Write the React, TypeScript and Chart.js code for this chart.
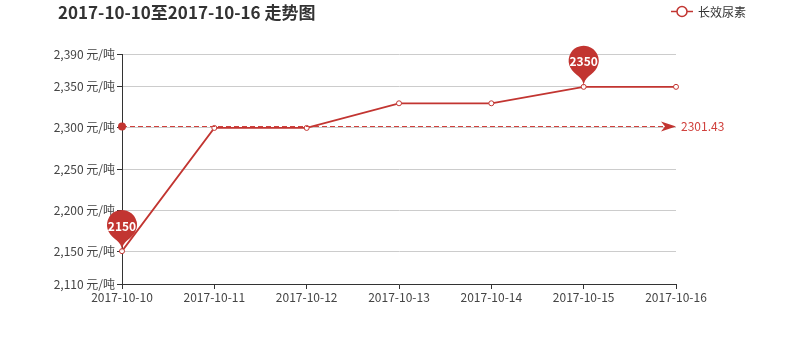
import React, { useEffect, useRef } from 'react';
import { Chart, registerables } from 'chart.js';

Chart.register(...registerables);

const titleText = '2017-10-10至2017-10-16 走势图';
const seriesName = '长效尿素';
const unit = '元/吨';
const categories = ['2017-10-10', '2017-10-11', '2017-10-12', '2017-10-13', '2017-10-14', '2017-10-15', '2017-10-16'];
const prices = [2150, 2300, 2300, 2330, 2330, 2350, 2350];
const yTicks = [2110, 2150, 2200, 2250, 2300, 2350, 2390];
const yMin = 2110;
const yMax = 2390;

const RED = '#c23531';
const FONT = '"Noto Sans CJK SC", "Microsoft YaHei", sans-serif';

function drawPin(ctx: CanvasRenderingContext2D, x: number, y: number, width: number, height: number) {
  const w = width;
  const h = Math.max(w, height);
  const r = w / 2;
  const dy = (r * r) / (h - r);
  const cy = y - h + r + dy;
  const angle = Math.asin(dy / r);
  const dx = Math.cos(angle) * r;
  const tanX = Math.sin(angle);
  const tanY = Math.cos(angle);
  const cpLen = r * 0.6;
  const cpLen2 = r * 0.7;
  ctx.beginPath();
  ctx.moveTo(x - dx, cy + dy);
  ctx.arc(x, cy, r, Math.PI - angle, Math.PI * 2 + angle);
  ctx.bezierCurveTo(x + dx - tanX * cpLen, cy + dy + tanY * cpLen, x, y - cpLen2, x, y);
  ctx.bezierCurveTo(x, y - cpLen2, x - dx + tanX * cpLen, cy + dy + tanY * cpLen, x - dx, cy + dy);
  ctx.closePath();
  ctx.fill();
  return cy;
}

const overlayPlugin = {
  id: 'overlay',
  afterDatasetsDraw(chart: any) {
    const ctx: CanvasRenderingContext2D = chart.ctx;
    const xs = chart.scales.x;
    const ys = chart.scales.y;
    const area = chart.chartArea;

    // mark line (average)
    const avg = prices.reduce((a, b) => a + b, 0) / prices.length;
    const ay = Math.round(ys.getPixelForValue(avg) - 0.5) + 0.5;
    ctx.save();
    ctx.strokeStyle = '#d0403c';
    ctx.lineWidth = 1;
    ctx.setLineDash([5, 3]);
    ctx.beginPath();
    ctx.moveTo(area.left, ay);
    ctx.lineTo(area.right - 6, ay);
    ctx.stroke();
    ctx.setLineDash([]);
    ctx.fillStyle = RED;
    ctx.beginPath();
    ctx.arc(area.left, ay, 4, 0, Math.PI * 2);
    ctx.fill();
    // arrow
    ctx.beginPath();
    ctx.moveTo(area.right, ay);
    ctx.lineTo(area.right - 15, ay - 5);
    ctx.lineTo(area.right - 11, ay);
    ctx.lineTo(area.right - 15, ay + 5);
    ctx.closePath();
    ctx.fill();
    ctx.font = `12px ${FONT}`;
    ctx.fillStyle = '#d0403c';
    ctx.textAlign = 'left';
    ctx.textBaseline = 'middle';
    ctx.fillText(avg.toFixed(2), area.right + 5, ay);
    ctx.restore();

    // mark points: max and min
    const maxV = Math.max(...prices);
    const minV = Math.min(...prices);
    const maxI = prices.indexOf(maxV);
    const minI = prices.indexOf(minV);
    const pins = [
      { i: maxI, v: maxV },
      { i: minI, v: minV },
    ];
    ctx.save();
    for (const p of pins) {
      const px = xs.getPixelForValue(p.i);
      const py = ys.getPixelForValue(p.v);
      ctx.fillStyle = RED;
      const cy = drawPin(ctx, px, py, 30, 48);
      ctx.fillStyle = '#fff';
      ctx.font = `bold 12px ${FONT}`;
      ctx.textAlign = 'center';
      ctx.textBaseline = 'middle';
      ctx.fillText(String(p.v), px, cy + 1);
    }
    ctx.restore();

    // title
    ctx.save();
    ctx.fillStyle = '#333';
    ctx.font = `bold 17px ${FONT}`;
    ctx.textAlign = 'left';
    ctx.textBaseline = 'middle';
    ctx.fillText(titleText, 58, 13);
    ctx.restore();

    // legend
    ctx.save();
    ctx.strokeStyle = RED;
    ctx.lineWidth = 1.5;
    ctx.beginPath();
    ctx.moveTo(671, 11.5);
    ctx.lineTo(693, 11.5);
    ctx.stroke();
    ctx.fillStyle = '#fff';
    ctx.beginPath();
    ctx.arc(682, 11.5, 5, 0, Math.PI * 2);
    ctx.fill();
    ctx.stroke();
    ctx.fillStyle = '#333';
    ctx.font = `12px ${FONT}`;
    ctx.textAlign = 'left';
    ctx.textBaseline = 'middle';
    ctx.fillText(seriesName, 698, 12);
    ctx.restore();
  },
};

export default function App() {
  const ref = useRef<HTMLCanvasElement>(null);
  useEffect(() => {
    if (!ref.current) return;
    const chart = new Chart(ref.current, {
      type: 'line',
      data: {
        labels: categories,
        datasets: [
          {
            label: seriesName,
            data: prices,
            borderColor: RED,
            backgroundColor: '#fff',
            borderWidth: 1.8,
            pointRadius: 2.5,
            pointBorderWidth: 1,
            pointBackgroundColor: '#fff',
            pointBorderColor: RED,
            tension: 0,
          },
        ],
      },
      options: {
        animation: false,
        responsive: false,
        maintainAspectRatio: false,
        layout: { padding: { top: 54, right: 122, left: 0, bottom: 0 } },
        plugins: {
          legend: { display: false },
          title: { display: false },
          tooltip: { enabled: false },
        },
        font: { family: FONT },
        scales: {
          x: {
            type: 'category',
            offset: false,
            grid: { drawOnChartArea: false, color: '#333', tickColor: '#333', tickLength: 5 },
            border: { color: '#333', width: 1 },
            ticks: { color: '#444', font: { size: 12, family: FONT }, padding: 1, maxRotation: 0, autoSkip: false },
            afterFit: (s: any) => {
              s.height = 53;
            },
          },
          y: {
            min: yMin,
            max: yMax,
            afterBuildTicks: (s: any) => {
              s.ticks = yTicks.map((v) => ({ value: v }));
            },
            grid: { color: '#ccc', tickColor: '#333', tickLength: 5 },
            border: { color: '#333', width: 1 },
            ticks: {
              color: '#444',
              font: { size: 12, family: FONT },
              padding: 2,
              callback: (v: any) => Number(v).toLocaleString('en-US') + ' ' + unit,
            },
            afterFit: (s: any) => {
              s.width = 122;
            },
          },
        },
      } as any,
      plugins: [overlayPlugin],
    });
    return () => chart.destroy();
  }, []);
  return (
    <div style={{ position: 'fixed', left: 0, top: 0, width: 798, height: 337, background: '#fff' }}>
      <canvas ref={ref} width={798} height={337} style={{ width: 798, height: 337 }} />
    </div>
  );
}
